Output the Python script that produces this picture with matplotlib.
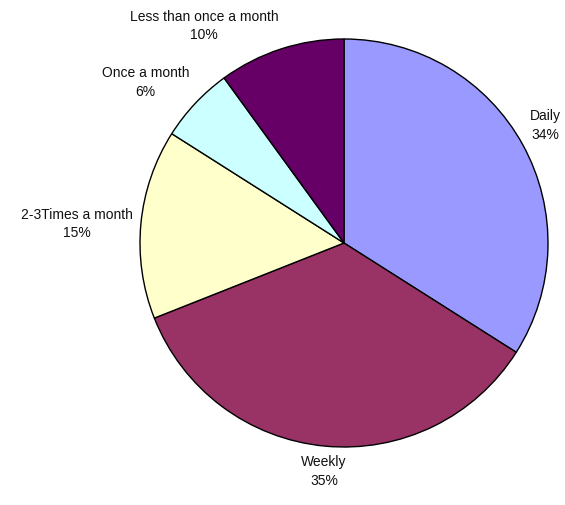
import numpy as np
import matplotlib
matplotlib.use('Agg')
import matplotlib.pyplot as plt

# survey frequency shares, in percent
labels = ['Daily', 'Weekly', '2-3Times a month', 'Once a month', 'Less than once a month']
values = [34, 35, 15, 6, 10]
colors = ['#9999FF', '#993366', '#FFFFCC', '#CCFFFF', '#660066']

plt.rcParams['font.family'] = ['Liberation Sans', 'DejaVu Sans']

fig = plt.figure(figsize=(5.65, 5.06), dpi=100)
ax = fig.add_axes([140 / 565, 58 / 506, 408 / 565, 408 / 506])

wedges, _ = ax.pie(values, colors=colors, startangle=90, counterclock=False,
                   radius=1, wedgeprops=dict(edgecolor='black', linewidth=1.0))

# data labels placed outside each wedge, aligned away from the pie
for w, lab, v in zip(wedges, labels, values):
    ang = np.deg2rad((w.theta1 + w.theta2) / 2)
    c, s = np.cos(ang), np.sin(ang)
    ha = 'right' if c < -0.2 else ('left' if c > 0.2 else 'center')
    va = 'bottom' if s > 0.3 else ('top' if s < -0.3 else 'center')
    ax.text(1.04 * c, 1.04 * s, '{}\n{}%'.format(lab, v), ha=ha, va=va,
            multialignment='center', fontsize=10, linespacing=1.4,
            color='#111111')

ax.set_xlim(-1, 1)
ax.set_ylim(-1, 1)
ax.axis('off')

fig.savefig('out.png', dpi=100)
